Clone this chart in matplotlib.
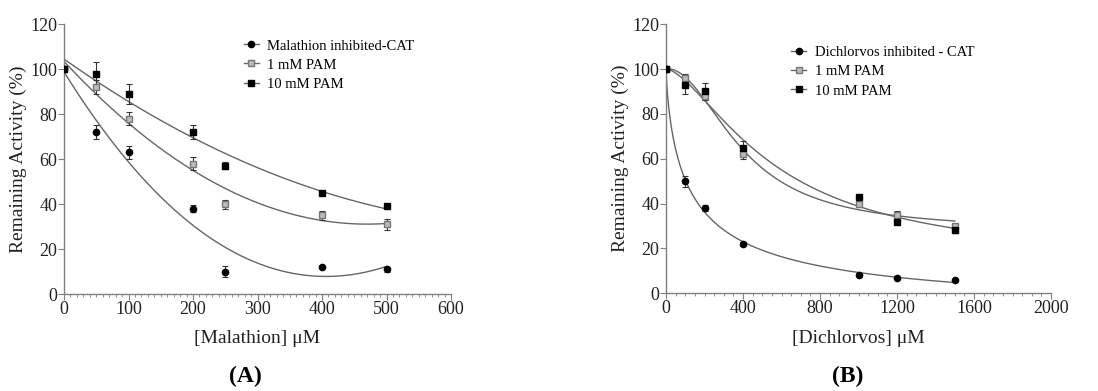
import numpy as np
import matplotlib
matplotlib.use("Agg")
import matplotlib.pyplot as plt
from matplotlib.ticker import MultipleLocator

plt.rcParams['font.family'] = ['Liberation Serif', 'DejaVu Serif']

# ---- Panel A data ----
mal_x = [0, 50, 100, 200, 250, 400, 500]
mal_ctrl = [100, 72, 63, 38, 10, 12, 11]
mal_ctrl_err = [1, 3, 3, 1.5, 2.5, 0.5, 1]
mal_pam1 = [100, 92, 78, 58, 40, 35, 31]
mal_pam1_err = [1, 3, 3, 3, 2, 2, 2.5]
mal_pam10 = [100, 98, 89, 72, 57, 45, 39]
mal_pam10_err = [1, 5, 4.5, 3, 1.5, 0.5, 0.5]

# ---- Panel B data ----
dich_x = [0, 100, 200, 400, 1000, 1200, 1500]
dich_ctrl = [100, 50, 38, 22, 8, 7, 6]
dich_ctrl_err = [0.5, 2.5, 1.5, 1, 0.5, 0.5, 0.5]
dich_pam1 = [100, 96, 88, 62, 40, 35, 30]
dich_pam1_err = [0.5, 2, 2, 2, 1.5, 1.5, 1]
dich_pam10 = [100, 93, 90, 65, 43, 32, 28]
dich_pam10_err = [0.5, 4, 4, 3, 1, 1, 1]

labels_A = ['Malathion inhibited-CAT', '1 mM PAM', '10 mM PAM']
labels_B = ['Dichlorvos inhibited - CAT', '1 mM PAM', '10 mM PAM']


def poly_curve(x, y, deg, xs):
    c = np.polyfit(x, y, deg)
    return np.polyval(c, xs)


def hill_curve(x, y, xs, ic_range=(30, 1200), n_range=(0.5, 4)):
    x = np.asarray(x, float); y = np.asarray(y, float)
    best = None
    for ic in np.linspace(ic_range[0], ic_range[1], 150):
        for n in np.linspace(n_range[0], n_range[1], 70):
            f = 1.0 / (1.0 + (x / ic) ** n)
            A = np.column_stack([f, np.ones_like(x)])
            coef, *_ = np.linalg.lstsq(A, y, rcond=None)
            r = np.sum((A @ coef - y) ** 2)
            if best is None or r < best[0]:
                best = (r, ic, n, coef)
    _, ic, n, coef = best
    return coef[0] / (1.0 + (xs / ic) ** n) + coef[1]


fig = plt.figure(figsize=(10.98, 3.91), dpi=100)
axA = fig.add_axes([0.0583, 0.248, 0.3525, 0.6905])
axB = fig.add_axes([0.6066, 0.250, 0.3506, 0.6880])

line_col = '#666666'
styles = [
    dict(marker='o', ms=4.5, mfc='black', mec='black'),
    dict(marker='s', ms=5, mfc='#bbbbbb', mec='#777777', mew=1.0),
    dict(marker='s', ms=5, mfc='black', mec='black'),
]


def style_axes(ax, xmax, xmajor, xminor):
    ax.set_xlim(0, xmax)
    ax.set_ylim(0, 120)
    ax.xaxis.set_major_locator(MultipleLocator(xmajor))
    ax.xaxis.set_minor_locator(MultipleLocator(xminor))
    ax.yaxis.set_major_locator(MultipleLocator(20))
    for s in ['top', 'right']:
        ax.spines[s].set_visible(False)
    for s in ['left', 'bottom']:
        ax.spines[s].set_color('#808080')
        ax.spines[s].set_linewidth(1.0)
    ax.tick_params(axis='both', which='major', direction='out', length=4,
                   color='#808080', labelsize=13, pad=1, labelcolor='#222222')
    ax.tick_params(axis='x', which='minor', direction='out', length=2, color='#808080')
    ax.set_ylabel('Remaining Activity (%)', fontsize=14, color='#222222', labelpad=2)


# Panel A
xsA = np.linspace(0, 500, 300)
seriesA = [(mal_ctrl, mal_ctrl_err, 3), (mal_pam1, mal_pam1_err, 2), (mal_pam10, mal_pam10_err, 2)]
handlesA = []
for (y, e, deg), st, lab in zip(seriesA, styles, labels_A):
    axA.plot(xsA, poly_curve(mal_x, y, deg, xsA), color=line_col, lw=1.0, zorder=2)
    axA.errorbar(mal_x, y, yerr=e, fmt='none', ecolor='#333333', elinewidth=0.8,
                 capsize=2.5, capthick=0.8, zorder=3)
    axA.plot(mal_x, y, ls='none', zorder=4, **st)
    h, = axA.plot([], [], color=line_col, lw=1.0, **st)
    handlesA.append(h)
style_axes(axA, 600, 100, 10)
axA.set_xlabel('[Malathion] \u03bcM', fontsize=14, color='#222222', labelpad=9)
axA.legend(handlesA, labels_A, loc='upper left', bbox_to_anchor=(0.45, 0.965),
           frameon=False, fontsize=10.5, handlelength=1.0, handletextpad=0.6,
           labelspacing=0.4, borderaxespad=0)

# Panel B
xsB = np.linspace(0, 1500, 400)
curvesB = [hill_curve(dich_x, dich_ctrl, xsB),
           hill_curve(dich_x, dich_pam1, xsB),
           hill_curve(dich_x, dich_pam10, xsB)]
seriesB = [(dich_ctrl, dich_ctrl_err), (dich_pam1, dich_pam1_err), (dich_pam10, dich_pam10_err)]
handlesB = []
for (y, e), cv, st, lab in zip(seriesB, curvesB, styles, labels_B):
    axB.plot(xsB, cv, color=line_col, lw=1.0, zorder=2)
    axB.errorbar(dich_x, y, yerr=e, fmt='none', ecolor='#333333', elinewidth=0.8,
                 capsize=2.5, capthick=0.8, zorder=3)
    axB.plot(dich_x, y, ls='none', zorder=4, **st)
    h, = axB.plot([], [], color=line_col, lw=1.0, **st)
    handlesB.append(h)
style_axes(axB, 2000, 400, 50)
axB.set_xlabel('[Dichlorvos] \u03bcM', fontsize=14, color='#222222', labelpad=9)
axB.legend(handlesB, labels_B, loc='upper left', bbox_to_anchor=(0.31, 0.94),
           frameon=False, fontsize=10.5, handlelength=1.0, handletextpad=0.6,
           labelspacing=0.4, borderaxespad=0)

fig.text(245 / 1098, 1 - 376 / 391, '(A)', ha='center', va='center',
         fontsize=17, fontweight='bold', color='black')
fig.text(848 / 1098, 1 - 376 / 391, '(B)', ha='center', va='center',
         fontsize=17, fontweight='bold', color='black')

fig.savefig('out.png', dpi=100)
